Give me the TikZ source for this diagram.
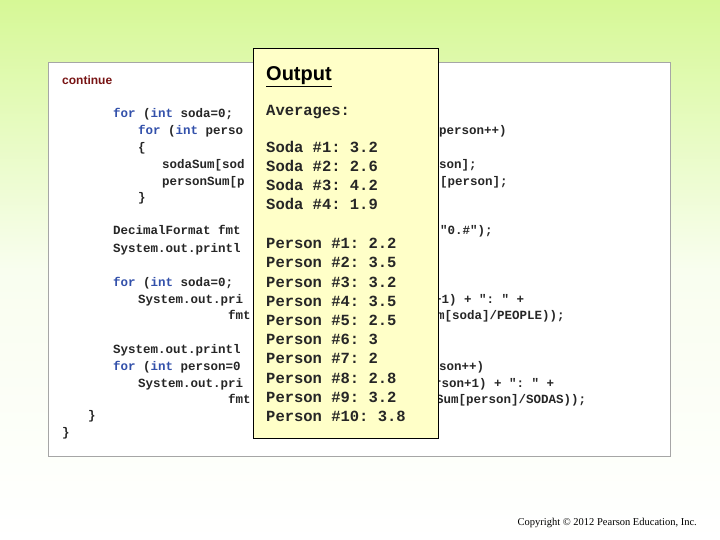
\documentclass[tikz,border=0pt]{standalone}
\usepackage{fontspec}
\setmainfont{Liberation Serif}
\setsansfont{Liberation Sans}
\setmonofont{Liberation Mono}
\definecolor{bgtop}{RGB}{214,248,150}
\definecolor{kw}{RGB}{50,80,170}
\definecolor{cont}{RGB}{120,20,20}
\definecolor{outfill}{RGB}{255,255,200}
\begin{document}
\begin{tikzpicture}[x=1pt,y=-1pt,
  code/.style={anchor=base west,inner sep=0pt,font=\ttfamily\bfseries\fontsize{12.5}{14}\selectfont,text=black!85},
  outt/.style={anchor=base west,inner sep=0pt,font=\ttfamily\bfseries\fontsize{15.5}{18}\selectfont,text=black!85}]
\useasboundingbox (0,0) rectangle (720,540);
\shade[top color=bgtop,bottom color=white,middle color=white!85!bgtop] (0,0) rectangle (720,540);
\node[draw=gray!70,line width=1pt,fill=white,minimum width=622pt,minimum height=394pt,anchor=north west,inner sep=0pt] (box) at (48,62) {};
\node[anchor=base west,inner sep=0pt,text=cont,font=\sffamily\bfseries\fontsize{12}{14}\selectfont] (cont) at (62,85) {continue};
\newcommand{\kw}[1]{\textcolor{kw}{#1}}
\node[code] (l1) at (113,118) {\kw{for} (\kw{int} soda=0;};
\node[code] (l2) at (138,135) {\kw{for} (\kw{int} perso};
\node[code] (l3) at (138,152) {\{};
\node[code] (l4) at (162,169) {sodaSum[sod};
\node[code] (l5) at (162,186) {personSum[p};
\node[code] (l6) at (138,202) {\}};
\node[code] (l7) at (113,235) {DecimalFormat fmt};
\node[code] (l8) at (113,252) {System.out.printl};
\node[code] (l9) at (113,286) {\kw{for} (\kw{int} soda=0;};
\node[code] (l10) at (138,303) {System.out.pri};
\node[code] (l11) at (228,319) {fmt};
\node[code] (l12) at (113,353) {System.out.printl};
\node[code] (l13) at (113,370) {\kw{for} (\kw{int} person=0};
\node[code] (l14) at (138,387) {System.out.pri};
\node[code] (l15) at (228,403) {fmt};
\node[code] (l16) at (88,419) {\}};
\node[code] (l17) at (62,436) {\}};
\node[code] (r2) at (439,135) {person++)};
\node[code] (r4) at (439,169) {son];};
\node[code] (r5) at (440,186) {[person];};
\node[code] (r7) at (440,235) {"0.\#");};
\node[code] (r10) at (434,303) {+1) + ": " +};
\node[code] (r11) at (437,319) {m[soda]/PEOPLE));};
\node[code] (r13) at (439,370) {son++)};
\node[code] (r14) at (434,387) {rson+1) + ": " +};
\node[code] (r15) at (436,403) {Sum[person]/SODAS));};
\node[draw=black,line width=0.6pt,fill=outfill,minimum width=185pt,minimum height=390pt,anchor=north west,inner sep=0pt] (out) at (253,48) {};
\node[anchor=base west,inner sep=0pt,font=\sffamily\bfseries\fontsize{20}{22}\selectfont] (title) at (266,81) {\underline{Output}};
\node[outt] (avg) at (266,116) {Averages:};
\foreach \t [count=\i] in {3.2,2.6,4.2,1.9}
  \node[outt] (s\i) at (266,{134+19*\i}) {Soda \#\i: \t};
\foreach \t [count=\i] in {2.2,3.5,3.2,3.5,2.5,3,2,2.8,3.2}
  \node[outt] (p\i) at (266,{229.5+19.2*\i}) {Person \#\i: \t};
\node[outt] (p10) at (266,421.5) {Person \#10: 3.8};
\node[anchor=base east,inner sep=0pt,font=\fontsize{10.5}{12}\selectfont] (copy) at (697,525) {Copyright © 2012 Pearson Education, Inc.};
\end{tikzpicture}
\end{document}
